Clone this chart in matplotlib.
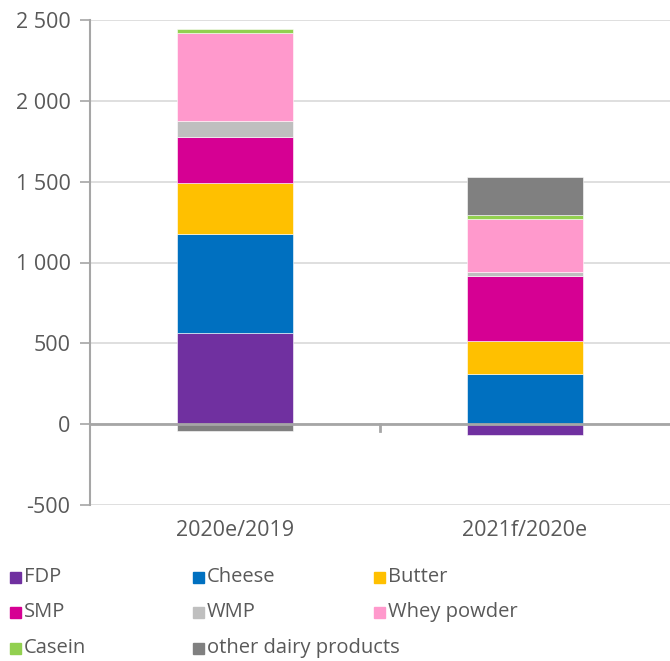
import matplotlib.pyplot as plt
from matplotlib.patches import Rectangle
import numpy as np

plt.rcParams['font.family'] = ['Open Sans', 'DejaVu Sans']

periods = ['2020e/2019', '2021f/2020e']
products = ['FDP', 'Cheese', 'Butter', 'SMP', 'WMP', 'Whey powder', 'Casein',
            'other dairy products']
colors = ['#7030A0', '#0070C0', '#FFC000', '#D60093', '#BFBFBF', '#FF99CC',
          '#92D050', '#808080']

# change per product, one value per period
fdp = [563, -68]
cheese = [615, 309]
butter = [315, 205]
smp = [285, 402]
wmp = [99, 25]
whey = [545, 328]
casein = [24, 24]
other = [-43, 235]
series = [fdp, cheese, butter, smp, wmp, whey, casein, other]

W, H = 670, 661
fig = plt.figure(figsize=(W / 100, H / 100), dpi=100)
ax = fig.add_axes([90 / W, 1 - 505 / H, 1 - 90 / W, 485 / H])

x = np.arange(len(periods))
pos_base = np.zeros(len(periods))
neg_base = np.zeros(len(periods))
for name, vals, c in zip(products, series, colors):
    vals = np.array(vals, dtype=float)
    base = np.where(vals >= 0, pos_base, neg_base)
    ax.bar(x, vals, 0.4, bottom=base, color=c, edgecolor='white',
           linewidth=0.4, label=name, zorder=3)
    pos_base += np.clip(vals, 0, None)
    neg_base += np.clip(vals, None, 0)

ax.set_xlim(-0.5, 1.5)
ax.set_ylim(-500, 2500)
ax.set_yticks(np.arange(-500, 2501, 500))
ax.set_yticklabels([f'{v:,}'.replace(',', ' ') for v in range(-500, 2501, 500)])
ax.yaxis.grid(True, color='#D9D9D9', linewidth=1.2, zorder=0)
ax.set_xticks(x)
ax.set_xticklabels(periods)
ax.tick_params(axis='x', length=0, pad=11, labelsize=15.5, labelcolor='#595959')
ax.tick_params(axis='y', length=7, width=1.2, color='#A6A6A6', labelsize=15.5,
               labelcolor='#595959', pad=7)
for s in ['top', 'right', 'bottom']:
    ax.spines[s].set_visible(False)
ax.spines['left'].set_color('#A6A6A6')
ax.spines['left'].set_linewidth(1.5)

# zero line with a divider tick between the periods
ax.axhline(0, color='#A6A6A6', linewidth=2, zorder=4)
ax.plot([0.5, 0.5], [0, -40], color='#A6A6A6', linewidth=2, zorder=4)

# legend laid out on a fixed grid, filled row by row
col_x = [10, 193, 374]
row_y = [577, 612, 648]
for i, (name, c) in enumerate(zip(products, colors)):
    px, py = col_x[i % 3], row_y[i // 3]
    fig.add_artist(Rectangle((px / W, 1 - (py + 6) / H), 11 / W, 11 / H,
                             transform=fig.transFigure, color=c))
    fig.text((px + 14) / W, 1 - py / H, name, fontsize=14.5, color='#595959',
             va='center', ha='left')

fig.savefig('out.png', dpi=100)
